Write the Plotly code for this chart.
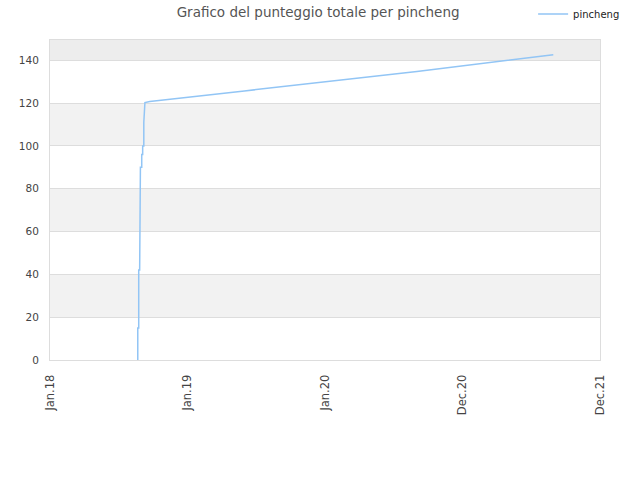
import plotly.graph_objects as go

dates = ["2018-08-22", "2018-08-22", "2018-08-22", "2018-08-24 12:00", "2018-08-24 12:00",
         "2018-08-27", "2018-08-27", "2018-08-29", "2018-08-29", "2018-09-01 12:00",
         "2018-09-01 12:00", "2018-09-04", "2018-09-04", "2018-09-07", "2018-09-07",
         "2018-09-10", "2018-09-23", "2019-06-01", "2020-01-01", "2020-09-01", "2021-08-29"]
scores = [0, 8, 15, 15, 42, 42, 55, 55, 90, 90, 96, 96, 100, 100, 111, 120.3, 120.8,
          125.7, 130.1, 134.8, 142.6]

tick_vals = ["2018-01-01", "2019-01-01", "2020-01-01", "2020-12-31", "2021-12-31"]
tick_text = ["Jan.18", "Jan.19", "Jan.20", "Dec.20", "Dec.21"]
y_ticks = [0, 20, 40, 60, 80, 100, 120, 140]
y_max = 149.5

fig = go.Figure()
fig.add_trace(go.Scatter(x=dates, y=scores, mode="lines", name="pincheng",
                         line=dict(color="#92c5f5", width=1.5)))

bands = [(20, 40, "#f2f2f2"), (60, 80, "#f2f2f2"), (100, 120, "#f2f2f2"), (140, y_max, "#ededed")]
for y0, y1, c in bands:
    fig.add_shape(type="rect", xref="paper", yref="y", x0=0, x1=1, y0=y0, y1=y1,
                  fillcolor=c, line_width=0, layer="below")

fig.update_layout(
    width=640, height=480,
    font=dict(family="DejaVu Sans", size=10, color="#444"),
    title=dict(text="Grafico del punteggio totale per pincheng", x=0.497, xanchor="center",
               xref="container", yref="container",
               y=0.975, yanchor="middle", font=dict(size=13.5, color="#555")),
    margin=dict(l=50, r=40, t=40, b=120, autoexpand=False),
    plot_bgcolor="white", paper_bgcolor="white",
    showlegend=True,
    legend=dict(x=0.833, y=0.971, xanchor="left", yanchor="middle", xref="container", yref="container",
                font=dict(size=10, color="#222"), bgcolor="rgba(0,0,0,0)", itemwidth=30),
    xaxis=dict(type="date", range=["2018-01-01", "2021-12-31"], tickvals=tick_vals, ticktext=tick_text,
               tickangle=-90, showgrid=False, showline=True, linecolor="#ddd", mirror=True,
               ticks="", zeroline=False, automargin=False, ticklabelstandoff=9,
               tickfont=dict(size=11.5, color="#444")),
    yaxis=dict(range=[0, y_max], tickvals=y_ticks, showgrid=True, gridcolor="#ddd",
               showline=True, linecolor="#ddd", mirror=True, zeroline=False, ticks="",
               automargin=False, ticklabelstandoff=8, tickfont=dict(size=10.5, color="#444")),
)

fig.write_html("out.html", config={"displayModeBar": False},
               post_script="document.body.style.margin='0';")
